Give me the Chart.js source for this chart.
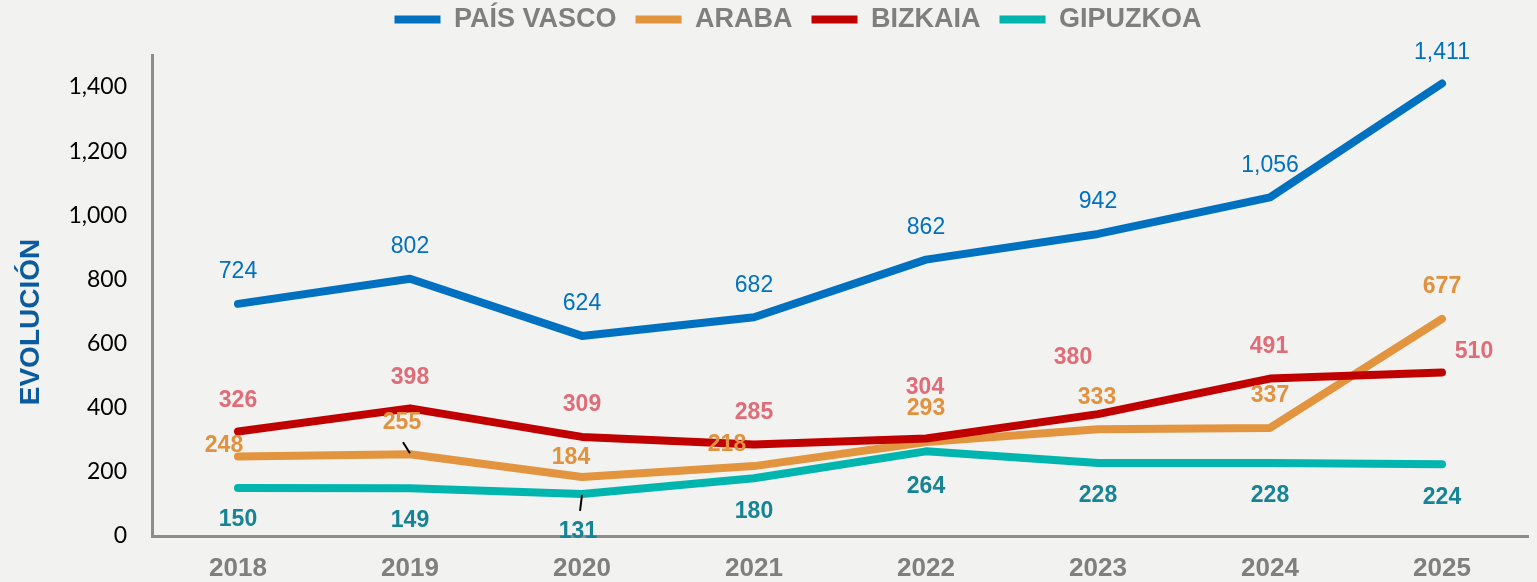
<!DOCTYPE html>
<html>
<head>
<meta charset="utf-8">
<script src="https://cdn.jsdelivr.net/npm/chart.js@4.4.1/dist/chart.umd.min.js"></script>
<style>
  html, body { margin: 0; padding: 0; background: #f2f2f0; }
  #wrap { width: 1537px; height: 582px; }
</style>
</head>
<body>
<div id="wrap"><canvas id="myChart"></canvas></div>
<script>
"use strict";
const years = ["2018", "2019", "2020", "2021", "2022", "2023", "2024", "2025"];
const seriesNames = ["PAÍS VASCO", "ARABA", "BIZKAIA", "GIPUZKOA"];
const paisVasco = [724, 802, 624, 682, 862, 942, 1056, 1411];
const araba = [248, 255, 184, 218, 293, 333, 337, 677];
const bizkaia = [326, 398, 309, 285, 304, 380, 491, 510];
const gipuzkoa = [150, 149, 131, 180, 264, 228, 228, 224];
const yMax = 1500;
const yStep = 200;
const yTitle = "EVOLUCIÓN";

// label offsets (px) from each point
const pvOffsets = [[0, -32], [0, -32], [0, -32], [0, -32], [0, -32], [0, -32], [0, -32], [0, -31]];
const arabaOffsets = [[-14, -11], [-8, -32], [-11, -19], [-27, -21], [0, -33], [-1, -32], [0, -32], [0, -32]];
const bizkaiaOffsets = [[0, -31], [0, -31], [0, -32], [0, -32], [-1, -51], [-25, -56], [-1, -32], [32, -21]];
const gipuzkoaOffsets = [[0, 32], [0, 32], [-4, 38], [0, 33], [0, 35], [0, 33], [0, 33], [0, 33]];
// leader lines: dataset, point, from dx,dy to dx,dy
const leaders = [[1, 1, -7, -12, 0, -1], [3, 2, -2, 17, 0, 1]];

const ctx = document.getElementById("myChart");

function makeSet(name, data, color, labelColor, labelFont, offsets, order) {
  return {
    label: name,
    data: data,
    borderColor: color,
    backgroundColor: color,
    borderWidth: 8,
    borderCapStyle: "round",
    borderJoinStyle: "round",
    pointRadius: 0,
    tension: 0,
    order: order,
    labelColor: labelColor,
    labelFont: labelFont,
    labelOffsets: offsets,
  };
}

const bgPlugin = {
  id: "bg",
  beforeDraw(chart) {
    const c = chart.ctx;
    c.save();
    c.fillStyle = "#f2f2f0";
    c.fillRect(0, 0, chart.width, chart.height);
    c.restore();
  },
};

// push the plot down under the legend and nudge the legend right
const legendSpace = {
  id: "legendSpace",
  beforeInit(chart) {
    const fit = chart.legend.fit;
    chart.legend.fit = function () {
      fit.bind(chart.legend)();
      this.height += 12;
    };
  },
  afterLayout(chart) {
    chart.legend.left += 34;
    chart.legend.right += 34;
  },
};

const labelPlugin = {
  id: "pointLabels",
  afterDatasetsDraw(chart) {
    const c = chart.ctx;
    chart.data.datasets.forEach((ds, i) => {
      const meta = chart.getDatasetMeta(i);
      c.save();
      c.font = ds.labelFont;
      c.fillStyle = ds.labelColor;
      c.textAlign = "center";
      c.textBaseline = "middle";
      meta.data.forEach((pt, j) => {
        const off = ds.labelOffsets[j];
        c.fillText(ds.data[j].toLocaleString("en-US"), pt.x + off[0], pt.y + off[1]);
      });
      c.restore();
    });
    c.save();
    c.strokeStyle = "#000";
    c.lineWidth = 2;
    leaders.forEach((l) => {
      const pt = chart.getDatasetMeta(l[0]).data[l[1]];
      c.beginPath();
      c.moveTo(pt.x + l[2], pt.y + l[3]);
      c.lineTo(pt.x + l[4], pt.y + l[5]);
      c.stroke();
    });
    c.restore();
  },
  afterDraw(chart) {
    const c = chart.ctx;
    c.save();
    c.translate(31, 322);
    c.rotate(-Math.PI / 2);
    c.font = "bold 28px 'Liberation Sans', Arial, sans-serif";
    c.fillStyle = "#0b5c9e";
    c.textAlign = "center";
    c.textBaseline = "middle";
    c.fillText(yTitle, 0, 0);
    c.restore();
  },
};

const myChart = new Chart(ctx, {
  type: "line",
  data: {
    labels: years,
    datasets: [
      makeSet(seriesNames[0], paisVasco, "#0070c0", "#0070c0", "23px 'Liberation Sans', Arial, sans-serif", pvOffsets, 4),
      makeSet(seriesNames[1], araba, "#e2943f", "#e2913f", "bold 23px 'Liberation Sans', Arial, sans-serif", arabaOffsets, 3),
      makeSet(seriesNames[2], bizkaia, "#c00000", "#e06c78", "bold 23px 'Liberation Sans', Arial, sans-serif", bizkaiaOffsets, 2),
      makeSet(seriesNames[3], gipuzkoa, "#00b5ae", "#168494", "bold 23px 'Liberation Sans', Arial, sans-serif", gipuzkoaOffsets, 1),
    ],
  },
  options: {
    responsive: true,
    maintainAspectRatio: false,
    animation: false,
    devicePixelRatio: 1,
    layout: { padding: { top: -13, right: 9, bottom: 0, left: 0 } },
    plugins: {
      tooltip: { enabled: false },
      legend: {
        position: "top",
        labels: {
          usePointStyle: true,
          pointStyle: "line",
          pointStyleWidth: 46,
          padding: 19,
          color: "#7f7f7f",
          font: { family: "'Liberation Sans Narrow', 'Arial Narrow', 'Liberation Sans', sans-serif", size: 27, weight: "bold" },
          sort: (a, b) => a.datasetIndex - b.datasetIndex,
        },
      },
    },
    scales: {
      x: {
        offset: true,
        grid: { display: false, drawTicks: false },
        border: { display: true, color: "#8c8c8c", width: 3 },
        ticks: {
          color: "#7f7f7f",
          padding: 17,
          font: { family: "'Liberation Sans', Arial, sans-serif", size: 26, weight: "bold" },
        },
        afterFit(scale) { scale.height = 46; },
      },
      y: {
        min: 0,
        max: yMax,
        grid: { display: false, drawTicks: false },
        border: { display: true, color: "#8c8c8c", width: 3 },
        ticks: {
          stepSize: yStep,
          includeBounds: false,
          color: "#000",
          padding: 25,
          font: { family: "Lato, 'Liberation Sans', sans-serif", size: 23 },
          callback: (v) => v.toLocaleString("en-US"),
        },
        afterFit(scale) { scale.width = 152; },
      },
    },
  },
  plugins: [bgPlugin, legendSpace, labelPlugin],
});
</script>
</body>
</html>
